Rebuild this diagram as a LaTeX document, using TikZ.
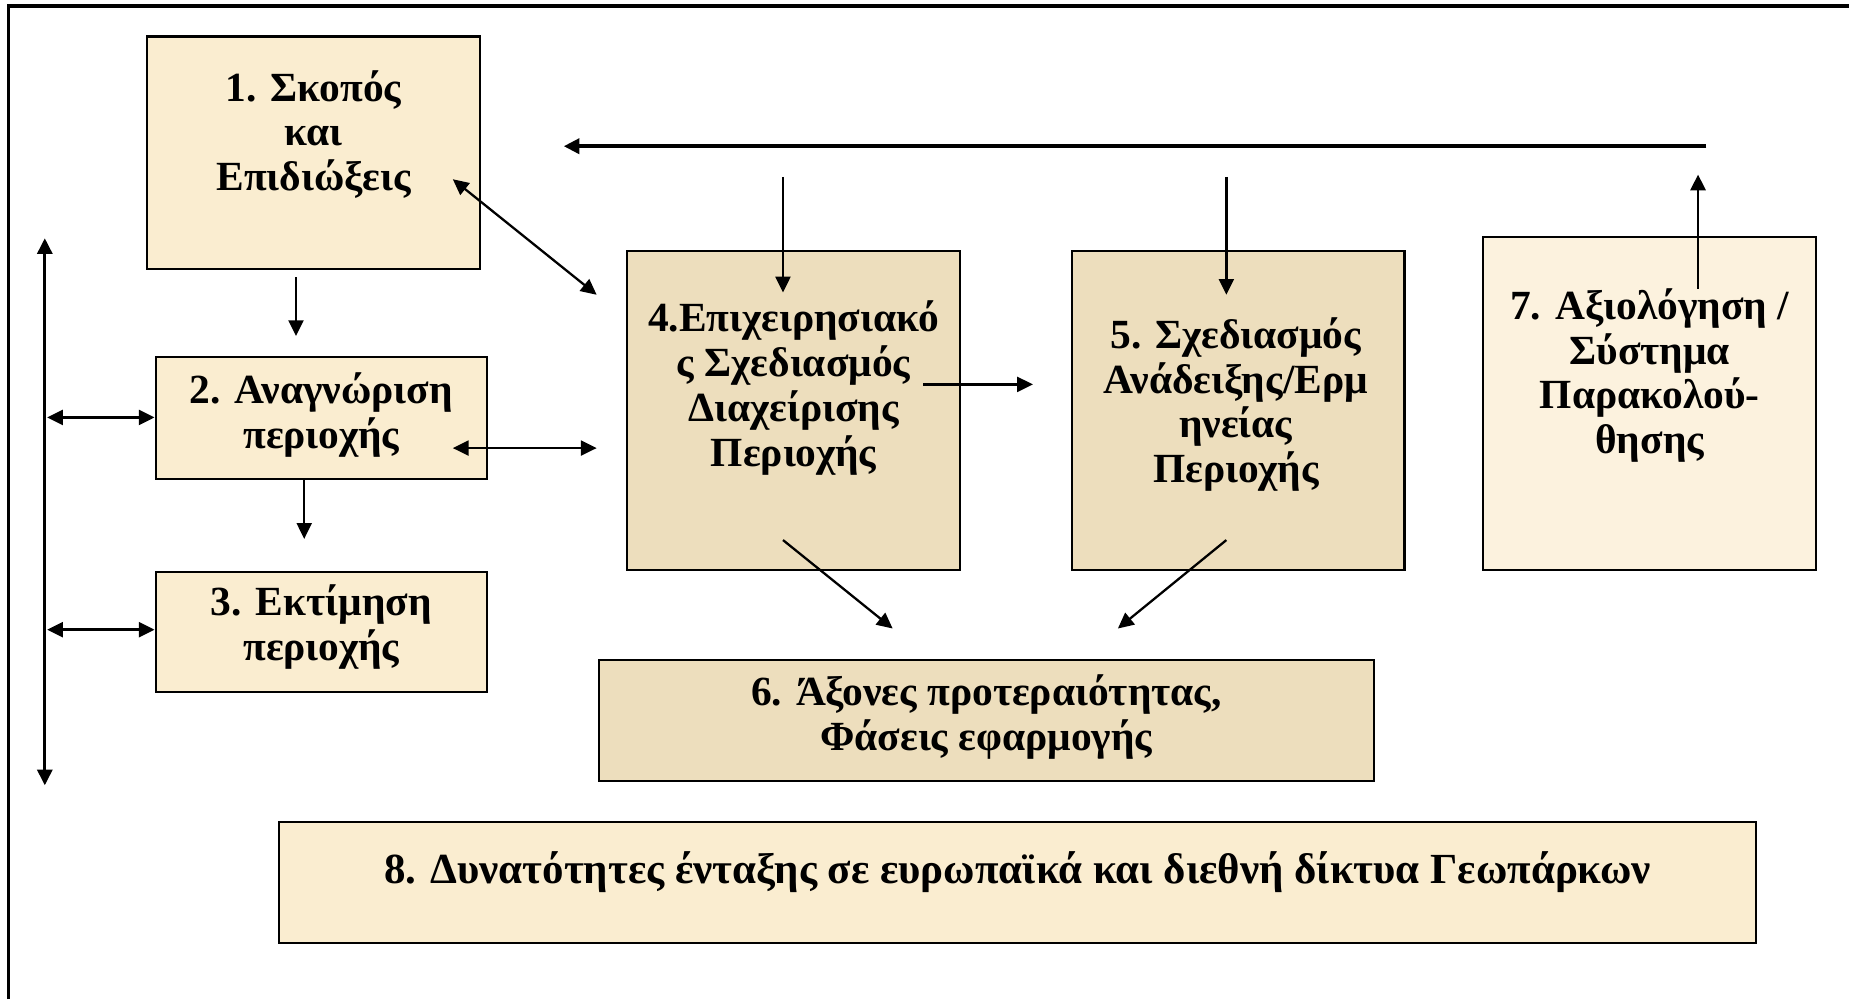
\documentclass[tikz,border=0pt]{standalone}
\usepackage{fontspec}
\setmainfont{Liberation Serif}
\usetikzlibrary{positioning, arrows.meta}

\definecolor{parchLight}{RGB}{250,237,208}
\definecolor{parchDark}{RGB}{237,222,189}
\definecolor{parchPale}{RGB}{252,242,222}

\begin{document}
\begin{tikzpicture}[x=0.01cm, y=-0.01cm,
              stageBox/.style={
                draw, line width=0.5pt, fill=parchLight, inner sep=0pt,
                minimum width=2.82cm
             },
              darkBox/.style={stageBox, fill=parchDark},
              stageText/.style={
                align=center, inner sep=0pt,
                font=\bfseries\fontsize{10}{10.8}\selectfont
             },
              arr/.style={-{Triangle[length=3.8pt,width=3.6pt]}, line width=0.55pt},
              dblArr/.style={{Triangle[length=3.8pt,width=3.6pt]}-{Triangle[length=3.8pt,width=3.6pt]}, line width=0.55pt}
             ]
              \useasboundingbox (0,0) rectangle (1568,847.2);
              % frame
              \draw[line width=0.8pt] (7,847.2) -- (7,5) -- (1568,5);

              % boxes
              \node[stageBox, minimum height=1.97cm](b1) at (266,129.5){};
              \node[stageBox, minimum width=2.81cm, minimum height=1.03cm](b2) at (272.5,354.5){};
              \node[stageBox, minimum width=2.81cm, minimum height=1.02cm, below=0.77cm of b2](b3){};
              \node[darkBox, minimum height=2.7cm](b4) at (673,348){};
              \node[darkBox, minimum height=2.7cm, right=0.93cm of b4](b5){};
              \node[stageBox, fill=parchPale, minimum height=2.82cm](b7) at (1399,342){};
              \node[darkBox, minimum width=6.57cm, minimum height=1.02cm](b6) at (836.5,611){};
              \node[stageBox, minimum width=12.52cm, minimum height=1.03cm](b8) at (863,748.5){};

              % texts
              \node[stageText](t1) at (266,114){1. Σκοπός\\και\\Επιδιώξεις};
              \node[stageText](t2) at (272.5,352){2. Αναγνώριση\\περιοχής};
              \node[stageText](t3) at (272.5,531.5){3. Εκτίμηση\\περιοχής};
              \node[stageText](t4) at (673,329){4.Επιχειρησιακό\\ς Σχεδιασμός\\Διαχείρισης\\Περιοχής};
              \node[stageText](t5) at (1048,343){5. Σχεδιασμός\\Ανάδειξης/Ερμ\\ηνείας\\Περιοχής};
              \node[stageText](t7) at (1399,318.5){7. Αξιολόγηση /\\Σύστημα\\Παρακολού-\\θησης};
              \node[stageText](t6) at (836.5,608){6. Άξονες προτεραιότητας,\\Φάσεις εφαρμογής};
              \node[stageText, font=\bfseries\fontsize{10.35}{10.8}\selectfont](t8) at (863,740){8. Δυνατότητες ένταξης σε ευρωπαϊκά και διεθνή δίκτυα Γεωπάρκων};

              % arrow ends
              \coordinate (fbR) at (1447,124);
              \coordinate (fbL) at (478,124);
              \coordinate (up7a) at (1440,245);
              \coordinate (up7b) at (1440,148);
              \coordinate (in4a) at (664,150);
              \coordinate (in4b) at (664,248);
              \coordinate (in5a) at (1040,150);
              \coordinate (in5b) at (1040,250);
              \coordinate (d1a) at (251,235);
              \coordinate (d1b) at (251,285);
              \coordinate (d2a) at (258,406);
              \coordinate (d2b) at (258,457);
              \coordinate (g1) at (384,152);
              \coordinate (g4) at (506,250);
              \coordinate (r2a) at (384,380);
              \coordinate (r2b) at (506,380);
              \coordinate (spT) at (38,202);
              \coordinate (spB) at (38,666);
              \coordinate (sp2) at (40,354);
              \coordinate (sp3) at (40,534);
              \coordinate (h4a) at (783,326);
              \coordinate (h4b) at (876,326);
              \coordinate (o4a) at (664,458);
              \coordinate (o4b) at (757,533);
              \coordinate (o5a) at (1040,458);
              \coordinate (o5b) at (948,533);

              % connectors
              \draw[arr, line width=1pt](fbR) -- (fbL);
              \draw[arr, line width=0.65pt](up7a) -- (up7b);
              \draw[arr](in4a) -- (in4b);
              \draw[arr](in5a) -- (in5b);
              \draw[arr](d1a) -- (d1b);
              \draw[arr](d2a) -- (d2b);
              \draw[dblArr](g1) -- (g4);
              \draw[dblArr](r2a) -- (r2b);
              \draw[dblArr, line width=0.8pt](spT) -- (spB);
              \draw[dblArr, line width=0.65pt](sp2) -- (b2.west |- sp2);
              \draw[dblArr, line width=0.65pt](sp3) -- (b3.west |- sp3);
              \draw[arr](h4a) -- (h4b);
              \draw[arr](o4a) -- (o4b);
              \draw[arr](o5a) -- (o5b);
            \end{tikzpicture}
\end{document}
